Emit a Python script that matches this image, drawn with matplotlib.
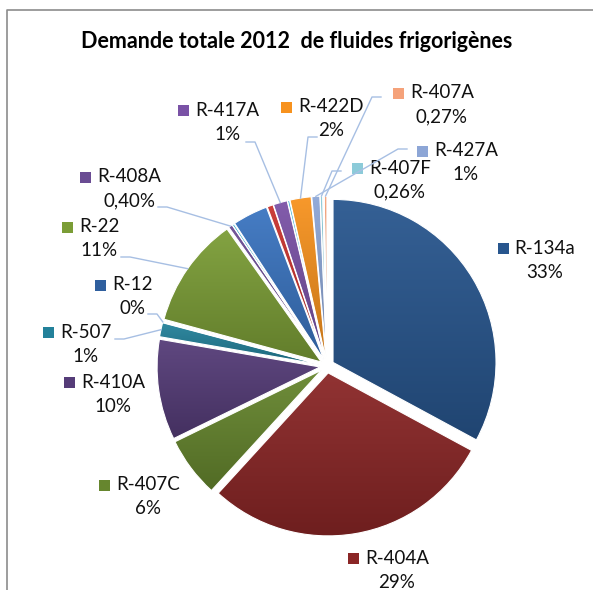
import numpy as np
import matplotlib.pyplot as plt
from matplotlib.colors import to_rgb
from matplotlib.patches import Rectangle

W, H = 593, 590

# slices clockwise from 12 o'clock ('' = slice without label)
refrigerants = ['R-134a', 'R-404A', 'R-407C', 'R-410A', 'R-507', 'R-12', 'R-22', 'R-408A',
                '', '', '', 'R-417A', '', 'R-422D', 'R-427A', 'R-407F', '', 'R-407A']
shares = [33, 29, 6, 10, 1.4, 0.1, 11, 0.4,
          0.2, 3.5, 0.6, 1.4, 0.2, 2.1, 0.8, 0.26, 0.12, 0.27]
pct_text = ['33%', '29%', '6%', '10%', '1%', '0%', '11%', '0,40%',
            '', '', '', '1%', '', '2%', '1%', '0,26%', '', '0,27%']
colors = ['#28568e', '#8a2626', '#66862e', '#553c78', '#23819a', '#2f5f9e', '#7b9d36', '#6a4c93',
          '#3eaccc', '#3a74c0', '#c8332e', '#7a52a6', '#3fb4d6', '#f7921e', '#8da6d6', '#8ccbd9',
          '#b4d07c', '#f5a27a']

# label placement (pixels from top-left): centre x of the name, y of the name line
label_pos = {'R-134a': (545, 248), 'R-404A': (397, 558), 'R-407C': (148, 485),
             'R-410A': (113, 382), 'R-507': (86, 332), 'R-12': (132, 285),
             'R-22': (99, 227), 'R-408A': (129, 177), 'R-417A': (227, 110),
             'R-422D': (331, 107), 'R-407A': (442, 93), 'R-427A': (466, 151),
             'R-407F': (400, 168)}
# end of the leader line on the label side
leader_end = {'R-408A': (158, 207), 'R-22': (121, 257), 'R-12': (148, 314),
              'R-507': (115, 339), 'R-417A': (246, 142), 'R-422D': (317, 137),
              'R-407A': (381, 97), 'R-407F': (341, 171), 'R-427A': (407, 149)}

plt.rcParams['font.family'] = ['Lato', 'DejaVu Sans']


def py(y):
    return H - y


fig = plt.figure(figsize=(W / 100, H / 100), dpi=100)
ax = fig.add_axes([0, 0, 1, 1])

cx, cy, r = 327, py(366), 163
wedges, _ = ax.pie(shares, colors=colors, startangle=90, counterclock=False,
                   radius=r, center=(cx, cy), explode=[7] * len(shares),
                   wedgeprops=dict(edgecolor='white', linewidth=0.8))

# vertical gradient inside every slice
for w, c in zip(wedges, colors):
    bb = w.get_path().get_extents()
    base = np.array(to_rgb(c))
    top = base + (1 - base) * 0.06
    bot = base * 0.80
    t = np.linspace(0, 1, 64)[:, None]
    grad = top * (1 - t) + bot * t
    img = ax.imshow(grad[:, None, :], extent=[bb.x0, bb.x1, bb.y0, bb.y1], origin='upper',
                    aspect='auto', zorder=1, interpolation='bilinear')
    img.set_clip_path(w)
    w.set_facecolor('none')
    w.set_zorder(2)

ax.set_xlim(0, W)
ax.set_ylim(0, H)
ax.set_aspect('auto')
ax.axis('off')

# chart frame
ax.plot([7, 7, W + 5], [py(H + 5), py(10), py(10)], color='#8c8c8c', lw=1.2, clip_on=False)

ax.text(297, py(42), 'Demande totale 2012  de fluides frigorigènes', ha='center', va='center',
        fontsize=15.5, fontweight='bold', color='black')

fig.canvas.draw()
renderer = fig.canvas.get_renderer()

for i, name in enumerate(refrigerants):
    if name not in label_pos:
        continue
    x, y = label_pos[name]
    t = ax.text(x, py(y), name, ha='center', va='center', fontsize=13.5, color='#111111')
    ax.text(x, py(y + 24), pct_text[i], ha='center', va='center', fontsize=13.5, color='#111111')
    bb = t.get_window_extent(renderer)
    ax.add_patch(Rectangle((bb.x0 - 17, py(y) - 5.5), 11, 11, facecolor=colors[i],
                           edgecolor='none', zorder=3))

    if name in leader_end:
        w = wedges[i]
        th = np.deg2rad((w.theta1 + w.theta2) / 2)
        sx = w.center[0] + w.r * np.cos(th)
        sy = w.center[1] + w.r * np.sin(th)
        ex, ey = leader_end[name]
        elbow = ex + 9 * np.sign(sx - ex)
        ax.plot([ex, elbow, sx], [py(ey), py(ey), sy], color='#a7bfe3', lw=1, zorder=4)

fig.savefig('out.png', dpi=100)
